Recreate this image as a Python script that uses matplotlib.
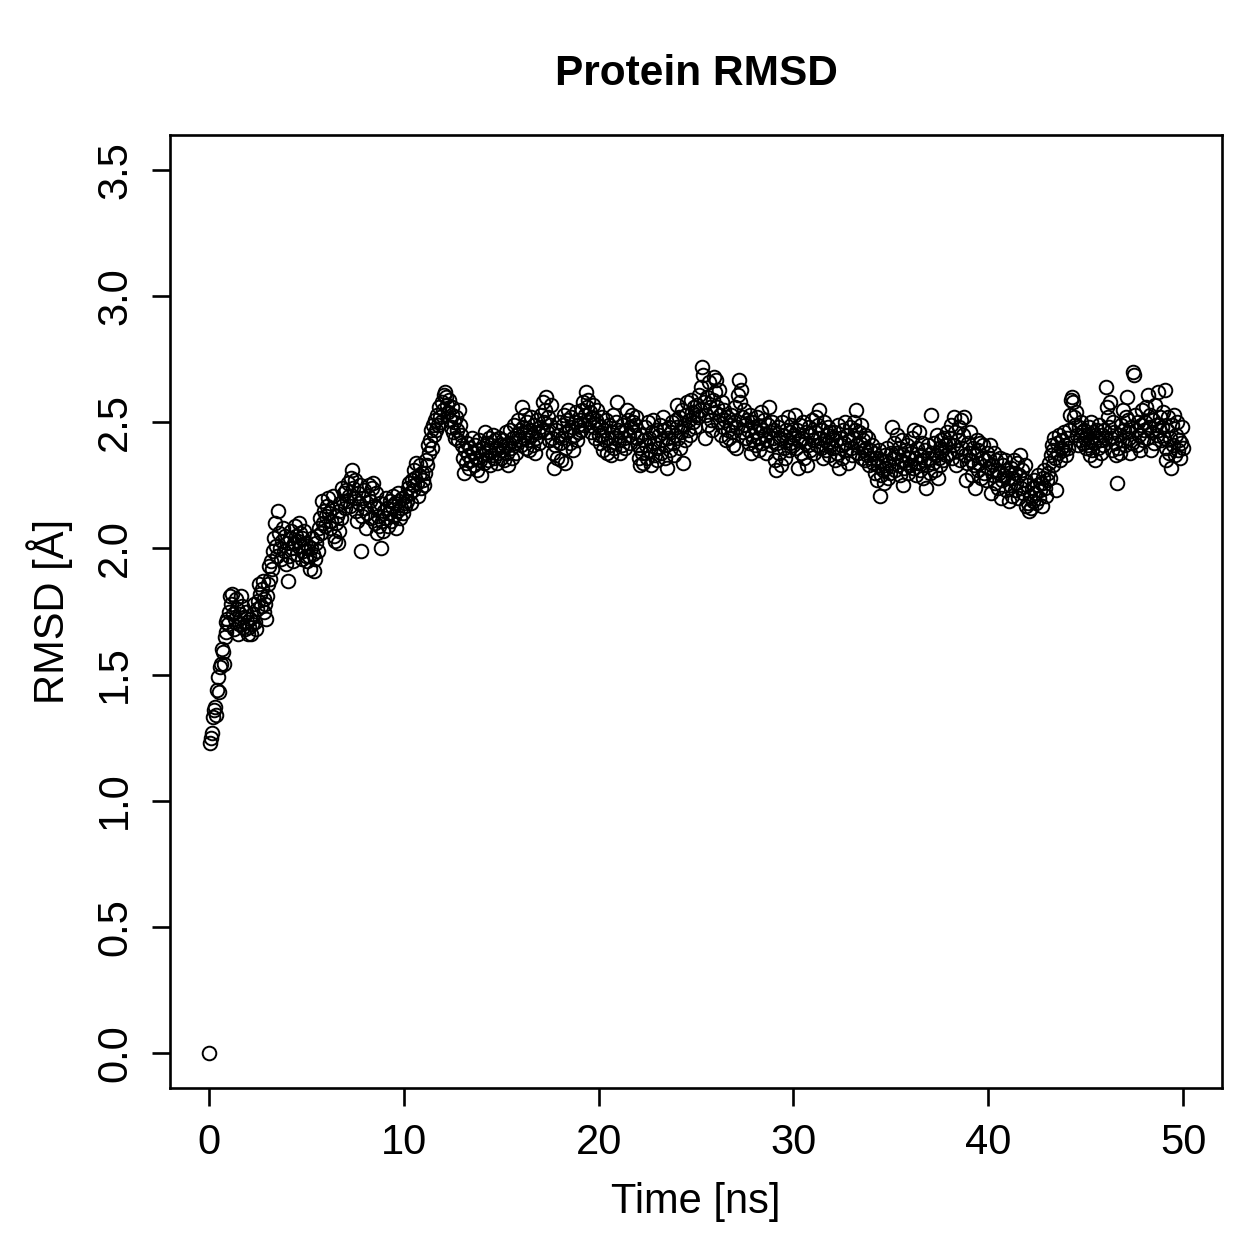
import numpy as np
import matplotlib
matplotlib.use("Agg")
import matplotlib.pyplot as plt

plt.rcParams['font.family'] = ['Liberation Sans', 'DejaVu Sans']

# RMSD values (Angstrom), one frame every 0.05 ns; first frame is the reference
rmsd_start = [0.00]
rmsd_rows = [
    [1.23, 1.25, 1.27, 1.33, 1.36, 1.37, 1.34, 1.44, 1.49, 1.43, 1.53, 1.54, 1.60, 1.59, 1.54, 1.65, 1.71, 1.67, 1.72, 1.70],
    [1.75, 1.81, 1.78, 1.82, 1.74, 1.68, 1.72, 1.80, 1.76, 1.66, 1.70, 1.74, 1.81, 1.77, 1.69, 1.73, 1.68, 1.75, 1.71, 1.66],
    [1.69, 1.72, 1.66, 1.70, 1.74, 1.78, 1.71, 1.68, 1.76, 1.79, 1.86, 1.82, 1.77, 1.84, 1.87, 1.80, 1.75, 1.78, 1.72, 1.81],
    [1.86, 1.93, 1.88, 1.95, 1.92, 1.99, 2.04, 2.10, 2.01, 1.97, 2.15, 2.06, 2.00, 1.96, 2.03, 2.08, 1.99, 2.05, 1.94, 2.02],
    [1.87, 1.97, 2.04, 2.07, 2.00, 1.95, 2.02, 2.09, 2.05, 1.98, 2.03, 2.10, 2.06, 2.01, 1.96, 2.04, 1.99, 2.07, 2.02, 1.97],
    [1.95, 2.01, 1.97, 1.92, 2.00, 2.04, 1.98, 1.91, 1.96, 2.02, 2.05, 1.99, 2.08, 2.12, 2.06, 2.19, 2.10, 2.15, 2.09, 2.13],
    [2.17, 2.20, 2.14, 2.08, 2.11, 2.16, 2.21, 2.05, 2.03, 2.10, 2.13, 2.02, 2.07, 2.15, 2.18, 2.12, 2.24, 2.19, 2.22, 2.16],
    [2.23, 2.19, 2.26, 2.21, 2.17, 2.28, 2.31, 2.24, 2.20, 2.27, 2.15, 2.11, 2.22, 2.18, 2.25, 1.99, 2.13, 2.20, 2.23, 2.16],
    [2.08, 2.14, 2.21, 2.25, 2.19, 2.12, 2.24, 2.26, 2.17, 2.10, 2.22, 2.16, 2.06, 2.13, 2.09, 2.18, 2.00, 2.11, 2.07, 2.15],
    [2.12, 2.20, 2.16, 2.09, 2.14, 2.19, 2.11, 2.17, 2.21, 2.13, 2.18, 2.08, 2.15, 2.22, 2.19, 2.12, 2.16, 2.20, 2.14, 2.18],
    [2.17, 2.21, 2.19, 2.24, 2.26, 2.22, 2.18, 2.27, 2.23, 2.25, 2.31, 2.28, 2.34, 2.26, 2.21, 2.29, 2.33, 2.24, 2.30, 2.27],
    [2.25, 2.30, 2.35, 2.33, 2.41, 2.38, 2.43, 2.47, 2.40, 2.49, 2.45, 2.51, 2.47, 2.53, 2.49, 2.56, 2.52, 2.50, 2.58, 2.55],
    [2.61, 2.62, 2.60, 2.57, 2.54, 2.59, 2.51, 2.48, 2.53, 2.56, 2.46, 2.50, 2.44, 2.52, 2.47, 2.43, 2.55, 2.49, 2.45, 2.41],
    [2.36, 2.30, 2.39, 2.34, 2.42, 2.37, 2.32, 2.40, 2.35, 2.44, 2.38, 2.33, 2.41, 2.36, 2.31, 2.39, 2.43, 2.35, 2.29, 2.37],
    [2.40, 2.34, 2.46, 2.38, 2.42, 2.35, 2.44, 2.39, 2.33, 2.41, 2.37, 2.45, 2.36, 2.43, 2.40, 2.34, 2.38, 2.44, 2.41, 2.36],
    [2.39, 2.43, 2.35, 2.41, 2.46, 2.38, 2.33, 2.42, 2.47, 2.40, 2.36, 2.44, 2.49, 2.42, 2.38, 2.45, 2.51, 2.43, 2.47, 2.41],
    [2.56, 2.48, 2.44, 2.53, 2.40, 2.46, 2.50, 2.43, 2.39, 2.47, 2.52, 2.45, 2.41, 2.49, 2.38, 2.44, 2.51, 2.46, 2.42, 2.48],
    [2.53, 2.47, 2.58, 2.50, 2.55, 2.60, 2.46, 2.52, 2.43, 2.49, 2.57, 2.44, 2.38, 2.32, 2.41, 2.47, 2.36, 2.45, 2.50, 2.42],
    [2.35, 2.44, 2.49, 2.53, 2.40, 2.34, 2.46, 2.51, 2.55, 2.47, 2.42, 2.52, 2.48, 2.39, 2.45, 2.50, 2.54, 2.43, 2.49, 2.46],
    [2.51, 2.47, 2.55, 2.58, 2.49, 2.53, 2.62, 2.56, 2.59, 2.50, 2.54, 2.46, 2.52, 2.57, 2.48, 2.44, 2.51, 2.55, 2.49, 2.45],
    [2.42, 2.48, 2.52, 2.45, 2.39, 2.47, 2.43, 2.51, 2.38, 2.44, 2.49, 2.41, 2.37, 2.46, 2.53, 2.40, 2.44, 2.50, 2.58, 2.47],
    [2.43, 2.38, 2.46, 2.41, 2.49, 2.44, 2.40, 2.47, 2.55, 2.51, 2.45, 2.42, 2.48, 2.53, 2.50, 2.46, 2.49, 2.52, 2.44, 2.41],
    [2.36, 2.33, 2.40, 2.45, 2.38, 2.34, 2.43, 2.48, 2.41, 2.36, 2.50, 2.44, 2.39, 2.33, 2.46, 2.51, 2.42, 2.37, 2.47, 2.35],
    [2.40, 2.45, 2.49, 2.38, 2.43, 2.52, 2.47, 2.36, 2.41, 2.32, 2.44, 2.48, 2.39, 2.46, 2.50, 2.42, 2.37, 2.45, 2.51, 2.57],
    [2.48, 2.44, 2.52, 2.40, 2.46, 2.55, 2.34, 2.49, 2.43, 2.53, 2.58, 2.47, 2.51, 2.45, 2.59, 2.54, 2.50, 2.56, 2.48, 2.53],
    [2.57, 2.52, 2.61, 2.55, 2.64, 2.72, 2.69, 2.58, 2.44, 2.53, 2.60, 2.49, 2.66, 2.56, 2.51, 2.47, 2.59, 2.68, 2.54, 2.62],
    [2.67, 2.56, 2.50, 2.63, 2.53, 2.45, 2.58, 2.48, 2.55, 2.51, 2.43, 2.52, 2.47, 2.44, 2.49, 2.53, 2.46, 2.41, 2.50, 2.56],
    [2.40, 2.48, 2.61, 2.67, 2.58, 2.63, 2.52, 2.46, 2.55, 2.49, 2.44, 2.51, 2.47, 2.42, 2.53, 2.38, 2.45, 2.50, 2.43, 2.48],
    [2.41, 2.46, 2.52, 2.44, 2.39, 2.48, 2.54, 2.42, 2.47, 2.51, 2.45, 2.38, 2.43, 2.49, 2.56, 2.46, 2.41, 2.50, 2.44, 2.47],
    [2.35, 2.31, 2.42, 2.48, 2.38, 2.44, 2.33, 2.50, 2.45, 2.40, 2.36, 2.47, 2.43, 2.52, 2.39, 2.46, 2.42, 2.49, 2.44, 2.41],
    [2.45, 2.53, 2.40, 2.47, 2.32, 2.43, 2.49, 2.38, 2.44, 2.50, 2.36, 2.42, 2.46, 2.33, 2.41, 2.48, 2.39, 2.45, 2.51, 2.43],
    [2.38, 2.46, 2.52, 2.41, 2.49, 2.55, 2.44, 2.40, 2.47, 2.36, 2.50, 2.43, 2.39, 2.45, 2.48, 2.42, 2.37, 2.46, 2.41, 2.44],
    [2.40, 2.46, 2.35, 2.43, 2.38, 2.49, 2.32, 2.44, 2.41, 2.36, 2.47, 2.42, 2.50, 2.39, 2.45, 2.34, 2.43, 2.48, 2.40, 2.37],
    [2.44, 2.50, 2.47, 2.55, 2.41, 2.38, 2.46, 2.42, 2.49, 2.36, 2.43, 2.39, 2.45, 2.35, 2.40, 2.37, 2.44, 2.33, 2.39, 2.36],
    [2.41, 2.34, 2.38, 2.30, 2.36, 2.27, 2.33, 2.39, 2.21, 2.29, 2.35, 2.31, 2.26, 2.37, 2.32, 2.40, 2.28, 2.34, 2.30, 2.38],
    [2.48, 2.36, 2.42, 2.31, 2.38, 2.45, 2.33, 2.40, 2.29, 2.35, 2.43, 2.37, 2.25, 2.32, 2.39, 2.34, 2.41, 2.30, 2.36, 2.33],
    [2.38, 2.44, 2.32, 2.47, 2.36, 2.29, 2.40, 2.34, 2.46, 2.31, 2.37, 2.42, 2.28, 2.35, 2.39, 2.24, 2.33, 2.41, 2.36, 2.30],
    [2.53, 2.38, 2.34, 2.42, 2.31, 2.37, 2.45, 2.28, 2.36, 2.40, 2.33, 2.43, 2.39, 2.35, 2.44, 2.41, 2.37, 2.46, 2.42, 2.38],
    [2.44, 2.49, 2.36, 2.41, 2.52, 2.46, 2.33, 2.39, 2.43, 2.48, 2.35, 2.51, 2.40, 2.45, 2.52, 2.37, 2.27, 2.34, 2.42, 2.38],
    [2.46, 2.35, 2.29, 2.40, 2.33, 2.24, 2.37, 2.43, 2.31, 2.39, 2.34, 2.42, 2.28, 2.36, 2.41, 2.30, 2.35, 2.27, 2.38, 2.32],
    [2.36, 2.41, 2.22, 2.33, 2.29, 2.38, 2.26, 2.35, 2.31, 2.24, 2.30, 2.36, 2.20, 2.27, 2.33, 2.29, 2.35, 2.23, 2.31, 2.28],
    [2.19, 2.25, 2.32, 2.21, 2.28, 2.35, 2.23, 2.30, 2.26, 2.34, 2.20, 2.29, 2.37, 2.24, 2.31, 2.22, 2.27, 2.33, 2.17, 2.25],
    [2.18, 2.15, 2.21, 2.16, 2.24, 2.19, 2.27, 2.22, 2.18, 2.25, 2.29, 2.20, 2.23, 2.26, 2.17, 2.28, 2.31, 2.24, 2.21, 2.27],
    [2.30, 2.34, 2.28, 2.37, 2.41, 2.33, 2.39, 2.44, 2.36, 2.23, 2.42, 2.38, 2.45, 2.35, 2.40, 2.43, 2.39, 2.46, 2.41, 2.37],
    [2.44, 2.40, 2.47, 2.53, 2.59, 2.60, 2.58, 2.52, 2.49, 2.54, 2.45, 2.41, 2.48, 2.43, 2.50, 2.46, 2.42, 2.47, 2.44, 2.40],
    [2.45, 2.41, 2.48, 2.37, 2.43, 2.50, 2.39, 2.46, 2.42, 2.35, 2.44, 2.47, 2.40, 2.49, 2.43, 2.38, 2.45, 2.41, 2.47, 2.44],
    [2.64, 2.56, 2.52, 2.48, 2.58, 2.44, 2.39, 2.50, 2.46, 2.42, 2.37, 2.26, 2.40, 2.45, 2.38, 2.49, 2.43, 2.55, 2.47, 2.41],
    [2.52, 2.60, 2.46, 2.51, 2.44, 2.38, 2.48, 2.42, 2.70, 2.69, 2.53, 2.47, 2.41, 2.50, 2.45, 2.39, 2.49, 2.55, 2.43, 2.47],
    [2.50, 2.56, 2.44, 2.61, 2.48, 2.53, 2.39, 2.46, 2.51, 2.42, 2.57, 2.49, 2.45, 2.62, 2.47, 2.52, 2.43, 2.48, 2.54, 2.44],
    [2.63, 2.40, 2.35, 2.47, 2.52, 2.38, 2.44, 2.32, 2.49, 2.41, 2.53, 2.37, 2.45, 2.50, 2.39, 2.43, 2.36, 2.42, 2.48, 2.40],
]
dt = 0.05  # ns per frame

rmsd = np.array(rmsd_start + [v for row in rmsd_rows for v in row])
time = np.arange(len(rmsd)) * dt

xticks = [0, 10, 20, 30, 40, 50]
yticks = [0.0, 0.5, 1.0, 1.5, 2.0, 2.5, 3.0, 3.5]

fig = plt.figure(figsize=(12.59, 12.59), dpi=100)
ax = fig.add_axes([170 / 1259, 1 - 1088 / 1259, 1052 / 1259, 953 / 1259])

ax.plot(time, rmsd, linestyle='none', marker='o', markersize=9.8,
        markerfacecolor='none', markeredgecolor='black', markeredgewidth=1.4)

# R-style 4% padding on each side
ax.set_xlim(-2, 52)
ax.set_ylim(-0.14, 3.64)
ax.set_xticks(xticks)
ax.set_xticklabels([str(t) for t in xticks])
ax.set_yticks(yticks)
ax.set_yticklabels([f"{t:.1f}" for t in yticks], rotation=90, va='center')

ax.tick_params(axis='both', direction='out', length=13, width=1.9,
               labelsize=30, pad=12)
for s in ax.spines.values():
    s.set_linewidth(1.9)

ax.set_xlabel("Time [ns]", fontsize=30, labelpad=14)
ax.set_ylabel("RMSD [Å]", fontsize=30, labelpad=16)
ax.set_title("Protein RMSD", fontsize=30.5, fontweight='bold', pad=36)

fig.savefig("out.png", dpi=100)
